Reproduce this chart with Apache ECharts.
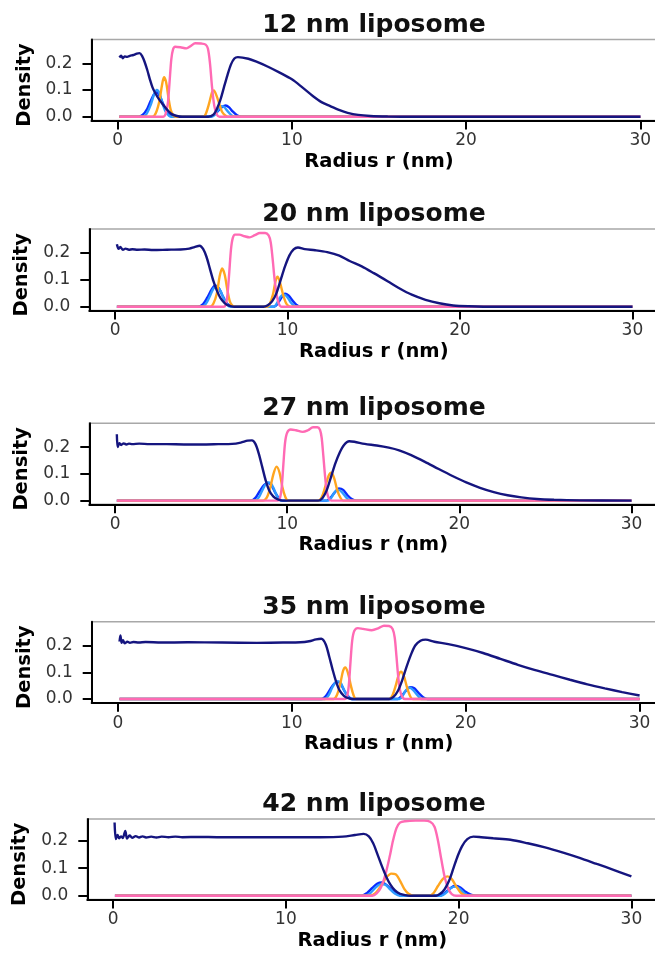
<!DOCTYPE html>
<html>
<head>
<meta charset="utf-8">
<script src="https://cdn.jsdelivr.net/npm/echarts@6/dist/echarts.min.js"></script>
<style>
  html, body { margin: 0; padding: 0; background: #fff; }
  #chart { width: 655px; height: 955px; }
</style>
</head>
<body>
<div id="chart"></div>
<script>
// panel titles and axis ticks
var titles = ['12 nm liposome', '20 nm liposome', '27 nm liposome', '35 nm liposome', '42 nm liposome'];
var xTicks = [0, 10, 20, 30];
var yTicks = [0, 0.1, 0.2];

// 12 nm
var water12 = [[0.1,0.222],[0.2,0.228],[0.3,0.219],[0.4,0.226],[0.55,0.224],[0.7,0.228],[0.9,0.231],[1.1,0.236],[1.25,0.238],[1.4,0.228],[1.55,0.205],[1.7,0.175],[1.85,0.14],[2.0,0.11],[2.15,0.09],[2.35,0.068],[2.6,0.046],[2.85,0.026],[3.1,0.01],[3.4,0.003],[3.7,0],[5.2,0],[5.5,0.008],[5.7,0.03],[5.9,0.064],[6.1,0.11],[6.3,0.155],[6.5,0.195],[6.7,0.218],[6.9,0.223],[7.5,0.217],[8.0,0.205],[8.6,0.188],[9.3,0.165],[10.0,0.14],[10.6,0.11],[11.2,0.078],[11.7,0.055],[12.2,0.04],[12.7,0.026],[13.2,0.015],[13.8,0.007],[14.5,0.003],[15.5,0.001],[17,0],[30,0]];
var choline12 = [[0.1,0],[1.2,0],[1.45,0.008],[1.7,0.03],[1.9,0.06],[2.1,0.085],[2.25,0.092],[2.4,0.08],[2.6,0.05],[2.8,0.02],[3.0,0.006],[3.2,0],[5.3,0],[5.55,0.008],[5.8,0.025],[6.0,0.037],[6.2,0.042],[6.4,0.035],[6.6,0.02],[6.85,0.006],[7.1,0],[30,0]];
var phosphate12 = [[0.1,0],[1.4,0],[1.65,0.01],[1.9,0.045],[2.1,0.085],[2.25,0.1],[2.4,0.088],[2.55,0.055],[2.75,0.02],[2.95,0.004],[3.1,0],[5.4,0],[5.6,0.01],[5.8,0.03],[5.95,0.04],[6.1,0.037],[6.3,0.022],[6.5,0.008],[6.7,0],[30,0]];
var carbonyl12 = [[0.1,0],[2.0,0],[2.2,0.015],[2.4,0.06],[2.55,0.12],[2.66,0.148],[2.78,0.13],[2.92,0.07],[3.05,0.025],[3.2,0.005],[3.35,0],[4.9,0],[5.05,0.01],[5.25,0.05],[5.42,0.092],[5.52,0.099],[5.67,0.08],[5.85,0.045],[6.0,0.018],[6.2,0.004],[6.4,0],[30,0]];
var tail12 = [[0.1,0],[2.6,0],[2.75,0.01],[2.88,0.05],[2.98,0.13],[3.08,0.215],[3.18,0.252],[3.3,0.262],[3.6,0.26],[3.95,0.256],[4.2,0.265],[4.45,0.275],[4.8,0.274],[5.05,0.27],[5.18,0.255],[5.3,0.2],[5.42,0.11],[5.55,0.04],[5.7,0.008],[5.85,0],[30,0]];

// 20 nm
var water20 = [[0.1,0.232],[0.2,0.215],[0.3,0.222],[0.45,0.212],[0.6,0.216],[0.8,0.212],[1.0,0.214],[1.3,0.212],[1.7,0.213],[2.2,0.211],[3,0.212],[3.8,0.213],[4.3,0.216],[4.6,0.222],[4.9,0.227],[5.1,0.215],[5.3,0.185],[5.5,0.14],[5.7,0.095],[5.9,0.06],[6.1,0.033],[6.35,0.014],[6.6,0.004],[6.9,0],[8.6,0],[8.85,0.006],[9.1,0.02],[9.35,0.05],[9.6,0.1],[9.85,0.15],[10.1,0.19],[10.35,0.213],[10.6,0.22],[11.0,0.214],[11.6,0.21],[12.3,0.203],[13.0,0.19],[13.6,0.17],[14.3,0.15],[15.0,0.125],[15.8,0.095],[16.5,0.068],[17.2,0.045],[18.0,0.026],[18.8,0.013],[19.6,0.005],[20.5,0.002],[22,0],[30,0]];
var choline20 = [[0.1,0],[4.8,0],[5.1,0.01],[5.35,0.035],[5.6,0.065],[5.8,0.079],[6.0,0.07],[6.2,0.045],[6.4,0.02],[6.6,0.006],[6.8,0],[9.2,0],[9.4,0.01],[9.6,0.03],[9.85,0.049],[10.05,0.042],[10.3,0.022],[10.5,0.008],[10.7,0],[30,0]];
var phosphate20 = [[0.1,0],[5.0,0],[5.25,0.01],[5.5,0.04],[5.7,0.068],[5.9,0.076],[6.1,0.06],[6.3,0.03],[6.5,0.008],[6.7,0],[9.2,0],[9.4,0.015],[9.6,0.038],[9.8,0.045],[10.0,0.035],[10.2,0.015],[10.4,0.003],[10.6,0],[30,0]];
var carbonyl20 = [[0.1,0],[5.5,0],[5.7,0.012],[5.9,0.05],[6.05,0.11],[6.2,0.142],[6.35,0.12],[6.5,0.065],[6.65,0.02],[6.8,0.004],[7.0,0],[8.8,0],[8.95,0.008],[9.15,0.045],[9.3,0.095],[9.42,0.112],[9.56,0.09],[9.74,0.045],[9.9,0.015],[10.05,0.003],[10.25,0],[30,0]];
var tail20 = [[0.1,0],[6.3,0],[6.42,0.01],[6.52,0.05],[6.62,0.13],[6.72,0.215],[6.82,0.255],[6.95,0.268],[7.2,0.268],[7.5,0.262],[7.8,0.258],[8.1,0.266],[8.4,0.274],[8.7,0.274],[8.9,0.265],[9.02,0.24],[9.13,0.18],[9.25,0.1],[9.38,0.04],[9.5,0.01],[9.65,0],[30,0]];

// 27 nm
var water27 = [[0.1,0.248],[0.15,0.2],[0.25,0.215],[0.35,0.208],[0.5,0.214],[0.65,0.21],[0.8,0.213],[1.0,0.211],[1.4,0.213],[2,0.211],[3,0.211],[4,0.21],[5,0.21],[6,0.211],[6.8,0.212],[7.3,0.217],[7.7,0.224],[7.95,0.225],[8.15,0.212],[8.35,0.175],[8.55,0.125],[8.75,0.075],[8.95,0.038],[9.2,0.015],[9.45,0.005],[9.75,0],[11.8,0],[12.05,0.01],[12.3,0.04],[12.55,0.09],[12.8,0.14],[13.05,0.18],[13.3,0.208],[13.6,0.222],[13.9,0.22],[14.5,0.212],[15.2,0.206],[15.9,0.198],[16.5,0.188],[17.2,0.17],[18,0.145],[18.8,0.118],[19.6,0.092],[20.4,0.068],[21.2,0.048],[22,0.032],[22.8,0.02],[23.6,0.012],[24.5,0.006],[25.5,0.003],[27,0.001],[30,0]];
var choline27 = [[0.1,0],[7.9,0],[8.15,0.01],[8.4,0.035],[8.65,0.058],[8.9,0.066],[9.1,0.055],[9.3,0.03],[9.5,0.01],[9.7,0],[12.3,0],[12.5,0.01],[12.75,0.03],[13.0,0.045],[13.25,0.04],[13.5,0.02],[13.75,0.006],[14.0,0],[30,0]];
var phosphate27 = [[0.1,0],[8.1,0],[8.35,0.012],[8.6,0.045],[8.85,0.068],[9.05,0.065],[9.25,0.04],[9.45,0.012],[9.65,0],[12.4,0],[12.6,0.015],[12.8,0.035],[13.0,0.04],[13.2,0.03],[13.45,0.01],[13.65,0],[30,0]];
var carbonyl27 = [[0.1,0],[8.6,0],[8.8,0.01],[9.0,0.045],[9.2,0.1],[9.38,0.127],[9.55,0.105],[9.72,0.05],[9.88,0.015],[10.05,0],[11.8,0],[12.0,0.012],[12.2,0.05],[12.4,0.092],[12.55,0.104],[12.72,0.085],[12.9,0.04],[13.08,0.012],[13.25,0],[30,0]];
var tail27 = [[0.1,0],[9.45,0],[9.58,0.01],[9.68,0.05],[9.78,0.14],[9.88,0.22],[10.0,0.255],[10.2,0.266],[10.5,0.263],[10.9,0.257],[11.2,0.263],[11.5,0.274],[11.75,0.274],[11.9,0.265],[12.0,0.235],[12.1,0.165],[12.2,0.09],[12.3,0.035],[12.42,0.008],[12.55,0],[30,0]];

// 35 nm
var water35 = [[0.1,0.215],[0.15,0.238],[0.22,0.21],[0.3,0.22],[0.4,0.208],[0.55,0.214],[0.7,0.21],[0.9,0.213],[1.2,0.211],[1.6,0.213],[2.5,0.211],[4,0.212],[6,0.211],[8,0.21],[9.5,0.211],[10.5,0.212],[11.0,0.216],[11.4,0.223],[11.7,0.225],[11.95,0.205],[12.15,0.16],[12.35,0.11],[12.55,0.065],[12.75,0.032],[13.0,0.012],[13.25,0.003],[13.5,0],[15.6,0],[15.85,0.008],[16.1,0.03],[16.35,0.07],[16.6,0.12],[16.85,0.165],[17.1,0.2],[17.4,0.218],[17.7,0.222],[18.2,0.214],[19,0.205],[20,0.19],[21,0.172],[22,0.15],[23,0.128],[24,0.108],[25,0.09],[26,0.072],[27,0.055],[28,0.04],[29,0.026],[30,0.013]];
var choline35 = [[0.1,0],[11.7,0],[11.95,0.01],[12.2,0.035],[12.45,0.058],[12.65,0.065],[12.85,0.052],[13.05,0.028],[13.25,0.01],[13.45,0],[16.1,0],[16.3,0.01],[16.55,0.03],[16.8,0.044],[17.05,0.04],[17.3,0.022],[17.55,0.007],[17.8,0],[30,0]];
var phosphate35 = [[0.1,0],[11.9,0],[12.1,0.012],[12.35,0.045],[12.6,0.066],[12.8,0.062],[13.0,0.035],[13.2,0.012],[13.4,0],[16.2,0],[16.4,0.015],[16.6,0.035],[16.8,0.042],[17.0,0.032],[17.25,0.012],[17.45,0],[30,0]];
var carbonyl35 = [[0.1,0],[12.4,0],[12.6,0.015],[12.8,0.06],[12.95,0.105],[13.08,0.118],[13.22,0.1],[13.4,0.05],[13.55,0.015],[13.7,0],[15.6,0],[15.8,0.015],[16.0,0.055],[16.15,0.09],[16.28,0.102],[16.45,0.085],[16.62,0.045],[16.8,0.012],[16.95,0],[30,0]];
var tail35 = [[0.1,0],[13.05,0],[13.18,0.01],[13.28,0.05],[13.38,0.14],[13.48,0.22],[13.6,0.255],[13.8,0.265],[14.1,0.262],[14.6,0.257],[15.0,0.265],[15.3,0.274],[15.6,0.273],[15.8,0.262],[15.92,0.23],[16.02,0.16],[16.12,0.085],[16.22,0.035],[16.35,0.008],[16.5,0],[30,0]];

// 42 nm
var water42 = [[0.08,0.265],[0.15,0.205],[0.25,0.22],[0.35,0.208],[0.45,0.215],[0.55,0.209],[0.7,0.235],[0.8,0.207],[0.95,0.218],[1.1,0.21],[1.3,0.216],[1.5,0.211],[1.7,0.215],[1.9,0.211],[2.2,0.214],[2.5,0.211],[2.8,0.214],[3.2,0.212],[3.6,0.214],[4,0.212],[5,0.213],[6,0.212],[8,0.212],[10,0.212],[12,0.212],[13.3,0.214],[14.0,0.22],[14.5,0.224],[14.8,0.215],[15.05,0.19],[15.3,0.15],[15.55,0.108],[15.8,0.07],[16.05,0.04],[16.3,0.02],[16.6,0.007],[16.9,0.002],[17.2,0],[18.7,0],[18.95,0.008],[19.2,0.025],[19.45,0.055],[19.7,0.1],[19.95,0.145],[20.2,0.18],[20.5,0.205],[20.85,0.214],[21.3,0.212],[22,0.208],[23,0.203],[24,0.19],[25,0.175],[26,0.157],[27,0.137],[28,0.115],[29,0.093],[30,0.07]];
var choline42 = [[0.1,0],[14.4,0],[14.7,0.01],[15.0,0.028],[15.3,0.044],[15.55,0.048],[15.8,0.04],[16.1,0.022],[16.4,0.008],[16.7,0],[18.9,0],[19.2,0.01],[19.5,0.026],[19.8,0.036],[20.1,0.03],[20.4,0.014],[20.7,0.004],[21.0,0],[30,0]];
var phosphate42 = [[0.1,0],[14.6,0],[14.9,0.01],[15.2,0.03],[15.5,0.042],[15.75,0.04],[16.0,0.025],[16.3,0.008],[16.6,0],[19.0,0],[19.3,0.012],[19.55,0.028],[19.8,0.033],[20.05,0.025],[20.35,0.008],[20.6,0],[30,0]];
var carbonyl42 = [[0.1,0],[14.9,0],[15.2,0.01],[15.5,0.035],[15.8,0.065],[16.1,0.08],[16.35,0.078],[16.6,0.055],[16.85,0.025],[17.1,0.007],[17.4,0],[18.3,0],[18.55,0.01],[18.8,0.035],[19.1,0.062],[19.35,0.07],[19.6,0.06],[19.85,0.035],[20.1,0.012],[20.35,0.002],[20.6,0],[30,0]];
var tail42 = [[0.1,0],[15.0,0],[15.25,0.008],[15.5,0.03],[15.75,0.075],[16.0,0.14],[16.2,0.2],[16.4,0.245],[16.6,0.265],[16.9,0.27],[17.5,0.272],[18.0,0.272],[18.35,0.268],[18.6,0.25],[18.8,0.2],[19.0,0.13],[19.2,0.065],[19.4,0.025],[19.6,0.006],[19.85,0],[30,0]];

var panels = [
    [choline12, phosphate12, carbonyl12, tail12, water12],
    [choline20, phosphate20, carbonyl20, tail20, water20],
    [choline27, phosphate27, carbonyl27, tail27, water27],
    [choline35, phosphate35, carbonyl35, tail35, water35],
    [choline42, phosphate42, carbonyl42, tail42, water42]
];
var colors = ['#0a2cff', '#2f9bff', '#ffa51f', '#ff6ab4', '#15157f'];

// grid boxes
var boxes = [
    {left: 91.5, top: 39.5, width: 575, height: 81, ymax: 0.289},
    {left: 89.3, top: 229, width: 569, height: 81.5, ymax: 0.289},
    {left: 89.3, top: 423.3, width: 568, height: 81, ymax: 0.289},
    {left: 91.7, top: 621.7, width: 574, height: 81, ymax: 0.289},
    {left: 87.3, top: 819, width: 570, height: 80.5, ymax: 0.278}
];

var chart = echarts.init(document.getElementById('chart'), null, {renderer: 'canvas'});
var font = 'DejaVu Sans';
var option = {
    backgroundColor: '#fff',
    animation: false,
    title: [],
    grid: [],
    xAxis: [],
    yAxis: [],
    series: []
};

boxes.forEach(function(b, i) {
    option.title.push({
        text: titles[i],
        left: 369,
        top: b.top - 32,
        textAlign: 'center',
        textStyle: {fontFamily: font, fontWeight: 'bold', fontSize: 25, color: '#111'}
    });
    option.grid.push({
        left: b.left, top: b.top, width: b.width, height: b.height,
        outerBoundsMode: 'none', containLabel: false,
        show: true, borderColor: '#a8a8a8', borderWidth: 1.5, backgroundColor: 'transparent'
    });
    option.xAxis.push({
        type: 'value', gridIndex: i, min: -1.5, max: 31.5,
        name: 'Radius r (nm)', nameLocation: 'middle', nameGap: 31,
        nameTextStyle: {fontFamily: font, fontWeight: 'bold', fontSize: 19.5, color: '#000'},
        axisLine: {onZero: false, lineStyle: {color: '#000', width: 2}},
        axisTick: {length: 9, lineStyle: {color: '#000', width: 2}, customValues: xTicks},
        axisLabel: {fontFamily: font, fontSize: 17, color: '#333', margin: 12, customValues: xTicks},
        splitLine: {show: false}
    });
    option.yAxis.push({
        type: 'value', gridIndex: i, min: -0.0138, max: b.ymax,
        name: 'Density', nameLocation: 'middle', nameGap: 56,
        nameTextStyle: {fontFamily: font, fontWeight: 'bold', fontSize: 19.5, color: '#000', padding: [0, 10, 0, 0]},
        axisLine: {show: true, onZero: false, lineStyle: {color: '#000', width: 2}},
        axisTick: {show: true, length: 9, lineStyle: {color: '#000', width: 2}, customValues: yTicks},
        axisLabel: {fontFamily: font, fontSize: 17, color: '#333', margin: 19, customValues: yTicks,
            formatter: function(v) { return v.toFixed(1); }},
        splitLine: {show: false}
    });
    panels[i].forEach(function(d, k) {
        option.series.push({
            type: 'line', xAxisIndex: i, yAxisIndex: i, data: d,
            showSymbol: false, smooth: 0.3, silent: true,
            lineStyle: {color: colors[k], width: 2.4}
        });
    });
});

chart.setOption(option);
</script>
</body>
</html>
